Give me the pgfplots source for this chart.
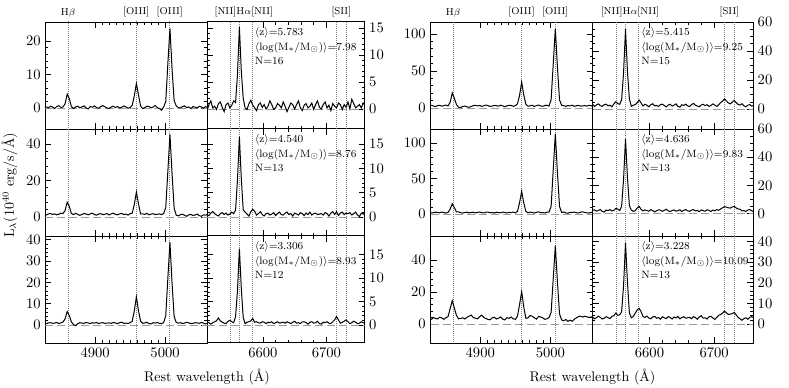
\documentclass[border=0pt]{standalone}
\usepackage{fontspec}
\usepackage{pgfplots}
\usepackage{pgfplotstable}
\pgfplotsset{compat=1.18}

\pgfplotstableread{
x a1 a2 a3 b1 b2 b3
4830 0.3 1.0 0.6 3.7 1.4 2.7
4833 0.0 1.7 1.0 2.7 1.8 4.0
4836 0.5 1.9 1.1 1.8 2.5 3.5
4839 0.3 1.4 0.8 3.1 2.1 3.1
4842 -0.2 1.7 0.9 3.6 1.6 4.2
4845 0.4 1.2 1.2 2.4 2.7 3.8
4848 0.7 1.5 0.7 3.0 2.0 2.9
4851 0.1 2.1 1.0 3.9 1.2 3.9
4854 0.3 1.9 1.4 2.7 2.3 4.6
4857 1.2 3.5 2.9 7.6 6.8 9.5
4860 4.1 8.1 6.3 20.3 14.4 14.5
4863 2.8 5.9 4.5 13.0 8.7 9.9
4866 0.4 2.0 1.5 4.7 2.9 5.4
4869 -0.2 1.3 0.2 1.0 3.0 3.2
4872 0.3 2.0 -0.3 0.6 1.8 3.5
4875 0.5 1.5 0.6 1.9 1.3 3.8
4878 0.0 0.9 1.1 2.6 2.1 3.1
4881 0.3 1.4 0.9 1.5 2.5 4.2
4884 0.6 1.9 0.8 0.9 1.6 4.8
4887 0.0 1.7 1.2 1.9 2.0 5.6
4890 -0.3 1.2 1.0 3.1 2.6 4.0
4893 0.4 1.7 0.7 3.6 1.4 3.6
4896 0.2 2.1 1.1 2.7 2.2 3.2
4899 0.6 1.3 0.9 3.3 2.8 4.5
4902 0.1 1.0 1.2 2.2 1.9 5.5
4905 -0.1 1.6 0.7 2.8 1.5 4.0
4908 0.4 1.8 1.0 3.9 2.4 3.4
4911 0.7 1.3 1.1 3.1 2.7 2.8
4914 0.3 1.5 0.8 2.1 1.8 2.6
4917 0.0 1.9 0.9 2.5 2.1 3.8
4920 -0.2 1.1 1.0 3.4 1.3 4.2
4923 0.3 1.7 0.8 3.0 2.5 3.1
4926 0.5 2.1 1.2 2.4 2.0 3.6
4929 0.1 1.4 1.0 3.7 1.6 4.4
4932 0.4 1.2 0.6 2.8 2.6 3.0
4935 0.0 1.7 1.1 1.8 2.2 2.5
4938 0.2 2.0 1.3 2.7 1.4 3.9
4941 0.6 1.3 0.8 3.6 2.4 3.5
4944 0.3 1.6 0.9 3.3 1.9 4.3
4947 -0.1 1.0 0.7 2.2 2.7 3.2
4950 0.1 1.8 1.1 3.1 1.5 2.9
4953 0.8 2.1 1.8 5.6 3.6 4.8
4956 3.6 6.8 6.6 16.9 16.0 12.1
4959 7.3 13.6 13.2 35.0 31.8 20.1
4962 3.9 7.2 6.7 17.4 15.5 10.5
4965 0.6 1.7 1.8 5.0 3.7 3.5
4968 -0.2 1.7 0.8 2.4 1.6 3.8
4971 0.1 1.4 1.0 2.8 2.6 5.3
4974 0.5 2.0 1.3 3.6 2.1 4.8
4977 0.4 1.2 0.7 2.1 1.3 3.9
4980 0.0 1.6 0.5 3.1 2.4 3.0
4983 0.3 1.8 1.1 3.9 3.0 4.6
4986 0.7 1.3 0.9 2.7 1.8 4.4
4989 0.1 1.5 1.2 2.2 2.0 3.8
4992 -0.2 1.7 0.8 3.3 1.4 2.9
4995 -0.7 1.3 0.7 3.7 2.5 3.2
4998 0.3 1.9 1.1 2.5 2.7 4.0
5001 1.9 5.1 4.4 11.3 10.8 7.2
5004 13.2 24.9 21.9 59.1 62.2 28.1
5007 23.8 45.2 38.8 107.0 113.2 49.0
5010 11.7 23.9 19.6 54.8 58.1 26.3
5013 2.2 4.8 4.0 10.7 10.5 6.2
5016 0.6 1.0 1.2 3.6 2.1 2.5
5019 0.1 0.6 0.9 3.1 2.8 2.0
5022 0.0 1.3 1.1 2.1 1.5 2.8
5025 0.4 1.5 0.7 3.3 1.0 1.6
5028 0.6 0.9 0.9 2.7 2.4 2.4
5031 0.1 0.4 1.3 3.7 2.0 1.7
5034 0.3 1.2 1.0 2.2 2.7 2.9
5037 -0.2 1.4 0.7 3.0 1.8 3.8
5040 0.4 0.8 0.8 3.4 1.4 4.6
5043 0.2 1.1 1.1 2.5 2.5 4.9
5046 0.0 1.6 1.0 2.8 3.1 4.3
5049 0.5 0.7 0.8 3.1 2.1 4.8
5052 0.3 0.4 1.2 2.4 1.6 4.5
5055 -0.1 1.2 0.9 3.6 1.3 4.0
5058 0.4 1.0 0.5 3.0 2.2 4.4
5061 0.1 1.5 0.9 1.9 2.6 3.9
}\leftdata

\pgfplotstableread{
x c1 c2 c3 d1 d2 d3
6512 -0.3 0.5 0.7 3.3 2.2 3.4
6515 0.8 0.3 0.5 1.8 2.6 2.5
6518 1.5 0.8 0.2 2.8 1.6 3.0
6521 0.2 1.1 0.5 3.6 2.1 3.8
6524 0.5 0.7 0.7 2.4 2.8 3.2
6527 -0.1 0.4 0.9 1.9 1.5 2.4
6530 1.0 0.2 1.5 3.0 1.0 2.8
6533 1.3 0.7 0.9 3.4 2.4 3.5
6536 0.3 0.9 0.6 2.2 2.0 3.1
6539 -0.5 0.5 0.4 2.7 2.7 2.6
6542 0.8 0.8 0.3 1.6 1.8 3.7
6545 1.1 0.4 0.8 3.6 2.2 4.0
6548 0.2 0.6 1.0 5.0 3.6 5.3
6551 0.7 1.0 0.7 3.8 3.1 4.2
6554 1.5 0.7 0.5 3.3 2.1 4.4
6557 1.2 1.4 1.8 6.4 5.2 5.9
6560 6.4 7.7 7.3 25.2 24.3 18.7
6563 15.2 16.5 16.2 55.0 53.2 39.2
6566 7.0 7.9 7.8 25.8 25.6 20.2
6569 2.0 1.5 1.6 7.0 5.5 5.3
6572 0.2 1.0 0.3 1.9 2.4 3.0
6575 -0.1 0.6 0.6 2.7 1.5 3.6
6578 1.0 0.2 0.7 3.1 2.0 5.2
6581 1.6 1.1 0.9 4.4 3.8 6.8
6584 0.7 1.6 1.4 6.2 5.0 7.6
6587 0.2 1.2 0.6 4.3 3.0 6.0
6590 -0.3 0.4 0.7 2.1 1.8 3.6
6593 0.8 0.7 0.5 3.3 2.5 3.2
6596 1.1 1.1 0.4 2.7 2.1 3.8
6599 0.3 0.5 0.7 1.6 1.6 2.9
6602 0.8 0.2 0.6 3.0 2.7 2.5
6605 0.0 0.7 0.3 3.7 2.0 3.4
6608 0.5 0.8 0.6 2.2 1.2 3.7
6611 1.5 0.4 0.5 2.5 1.9 2.8
6614 0.8 0.6 0.7 1.8 2.6 3.1
6617 -0.1 0.9 0.3 3.1 2.4 2.3
6620 0.2 0.3 0.5 3.4 1.5 3.5
6623 1.0 0.7 0.7 2.4 2.2 3.0
6626 0.7 1.0 0.4 1.5 3.0 2.6
6629 0.2 0.5 0.5 2.8 1.8 3.6
6632 1.3 0.4 0.6 3.3 1.3 3.2
6635 0.5 0.8 0.4 2.1 2.1 2.4
6638 -0.5 1.0 0.7 2.7 2.5 3.4
6641 0.3 0.5 0.5 3.6 1.6 2.9
6644 1.1 0.7 0.3 1.9 2.0 3.7
6647 0.8 0.2 0.6 1.3 2.6 2.5
6650 0.0 0.8 0.8 3.0 1.4 3.1
6653 0.8 0.6 0.4 2.5 2.2 3.5
6656 1.5 0.4 0.5 3.4 2.8 2.8
6659 0.2 0.9 0.3 2.2 1.9 3.0
6662 -0.3 0.7 0.7 1.8 1.5 3.2
6665 0.7 0.3 0.7 3.1 2.4 2.6
6668 1.0 0.8 0.5 3.9 2.7 3.6
6671 0.2 0.5 0.2 2.7 1.8 3.1
6674 0.5 1.0 0.6 2.1 2.1 2.3
6677 1.1 0.4 0.7 1.6 1.3 3.4
6680 -0.1 0.7 0.4 2.8 2.5 4.0
6683 0.8 0.8 0.5 3.3 2.0 2.8
6686 1.5 0.5 0.8 2.4 1.6 3.0
6689 0.3 0.6 0.3 3.0 2.6 2.4
6692 0.0 0.7 0.2 1.9 2.2 3.5
6695 0.8 0.4 0.6 2.5 1.4 3.7
6698 1.3 0.9 0.5 3.6 2.4 2.9
6701 0.2 0.7 0.7 2.8 1.9 2.2
6704 0.7 0.2 0.4 1.8 2.7 3.2
6707 -0.3 0.8 0.3 3.0 2.3 4.2
6710 1.0 1.1 0.7 4.5 3.2 4.6
6713 0.5 0.5 1.1 5.5 4.0 5.3
6716 0.2 1.1 1.8 7.0 4.8 6.2
6719 1.1 0.3 1.1 5.6 4.5 5.4
6722 0.8 0.8 0.4 4.2 4.0 4.6
6725 -0.1 1.0 0.6 3.6 3.8 4.8
6728 0.8 0.5 0.8 4.8 4.6 5.0
6731 0.3 0.8 1.1 6.0 5.0 5.6
6734 1.3 0.7 0.7 4.5 3.9 4.4
6737 0.0 0.9 0.3 3.2 3.2 3.2
6740 1.8 0.4 0.5 2.8 3.0 2.5
6743 1.0 0.7 0.8 3.7 1.8 1.8
6746 0.2 1.0 0.6 2.2 2.0 2.6
6749 0.5 0.4 0.3 1.6 1.4 3.0
6752 0.8 0.1 0.4 2.7 2.5 2.3
6755 0.2 0.8 0.7 3.1 2.7 3.2
6758 1.1 0.6 0.5 2.1 1.9 3.6
6761 0.7 1.0 0.4 2.5 1.2 2.9
}\rightdata

\pgfplotsset{
  panel/.style={
    scale only axis, anchor=south west, height=80.25pt,
    clip mode=individual,
    tick align=inside, xtick pos=both, ytick pos=both,
    major tick length=4.5pt, minor tick length=2.2pt,
    every tick/.style={black, line width=0.5pt},
    axis line style={line width=0.7pt},
    ticklabel style={font=\fontsize{10.5}{12}\selectfont},
    /pgf/number format/1000 sep={},
    minor y tick num=4,
  },
  lpanel/.style={panel, xmin=4829, xmax=5060, xtick={4900,5000},
    minor x tick num=9, yticklabel pos=left},
  rpanel/.style={panel, xmin=6512, xmax=6760, xtick={6600,6700},
    minor x tick num=4, yticklabel pos=right},
  spec/.style={black, line width=0.75pt, mark=none},
  vline/.style={gray, densely dotted, line width=0.5pt, forget plot},
  zline/.style={gray!80, dash pattern=on 6pt off 3pt, line width=0.5pt, forget plot},
}
\tikzset{
  toplab/.style={anchor=south, inner sep=1pt, yshift=2.5pt, font=\fontsize{7.5}{9}\selectfont},
  annotsty/.style={anchor=north west, align=left, inner sep=0pt, yshift=-4pt,
    font=\fontsize{8}{11}\selectfont},
}

\newcommand{\leftdeco}{%
  \addplot[vline] coordinates {(4861.3,-500) (4861.3,500)};
  \addplot[vline] coordinates {(4958.9,-500) (4958.9,500)};
  \addplot[vline] coordinates {(5006.8,-500) (5006.8,500)};
  \addplot[zline] coordinates {(4829,0) (5060,0)};
}
\newcommand{\rightdeco}{%
  \addplot[vline] coordinates {(6548.1,-500) (6548.1,500)};
  \addplot[vline] coordinates {(6562.8,-500) (6562.8,500)};
  \addplot[vline] coordinates {(6583.4,-500) (6583.4,500)};
  \addplot[vline] coordinates {(6716.4,-500) (6716.4,500)};
  \addplot[vline] coordinates {(6730.8,-500) (6730.8,500)};
  \addplot[zline] coordinates {(6512,0) (6760,0)};
}
\newcommand{\lefttop}{%
  \node[toplab] at ({axis cs:4861.3,0}|-{rel axis cs:0,1}) {H$\beta$};
  \node[toplab] at ({axis cs:4958.9,0}|-{rel axis cs:0,1}) {[OIII]};
  \node[toplab] at ({axis cs:5006.8,0}|-{rel axis cs:0,1}) {[OIII]};
}
\newcommand{\righttop}{%
  \node[toplab] at ({axis cs:6570,0}|-{rel axis cs:0,1}) {[NII]H$\alpha$[NII]};
  \node[toplab] at ({axis cs:6723.6,0}|-{rel axis cs:0,1}) {[SII]};
}
\newcommand{\annot}[3]{%
  \node[annotsty] at ({axis cs:6587,0}|-{rel axis cs:0,1})
    {$\langle$z$\rangle$=#1\\$\langle$log(M$_*$/M$_\odot$)$\rangle$=#2\\N=#3};
}

\begin{document}
\begin{tikzpicture}
\useasboundingbox (0,0) rectangle (591.75pt,291pt);

% ---------------- group A ----------------
\begin{axis}[lpanel, at={(34.125pt,194.25pt)}, width=121.125pt,
  ymin=-6.3, ymax=25.7, ytick={0,10,20}, xticklabels={}]
  \leftdeco
  \addplot[spec] table[x=x,y=a1]{\leftdata};
  \lefttop
\end{axis}
\begin{axis}[rpanel, at={(155.25pt,194.25pt)}, width=118.125pt,
  ymin=-3.7, ymax=16.1, ytick={0,5,10,15}, xticklabels={}]
  \rightdeco
  \addplot[spec] table[x=x,y=c1]{\rightdata};
  \righttop
  \annot{5.783}{7.98}{16}
\end{axis}

\begin{axis}[lpanel, at={(34.125pt,114pt)}, width=121.125pt,
  ymin=-10.4, ymax=48.2, ytick={0,20,40}, xticklabels={}]
  \leftdeco
  \addplot[spec] table[x=x,y=a2]{\leftdata};
\end{axis}
\begin{axis}[rpanel, at={(155.25pt,114pt)}, width=118.125pt,
  ymin=-3.9, ymax=18.1, ytick={0,5,10,15}, xticklabels={}]
  \rightdeco
  \addplot[spec] table[x=x,y=c2]{\rightdata};
  \annot{4.540}{8.76}{13}
\end{axis}

\begin{axis}[lpanel, at={(34.125pt,33.75pt)}, width=121.125pt,
  ymin=-8.4, ymax=41.7, ytick={0,10,20,30,40}]
  \leftdeco
  \addplot[spec] table[x=x,y=a3]{\leftdata};
\end{axis}
\begin{axis}[rpanel, at={(155.25pt,33.75pt)}, width=118.125pt,
  ymin=-3.8, ymax=18.9, ytick={0,5,10,15}]
  \rightdeco
  \addplot[spec] table[x=x,y=c3]{\rightdata};
  \annot{3.306}{8.93}{12}
\end{axis}

% ---------------- group B ----------------
\begin{axis}[lpanel, at={(322.875pt,194.25pt)}, width=121.5pt,
  ymin=-28.4, ymax=116, ytick={0,50,100}, xticklabels={}]
  \leftdeco
  \addplot[spec] table[x=x,y=b1]{\leftdata};
  \lefttop
\end{axis}
\begin{axis}[rpanel, at={(444.375pt,194.25pt)}, width=120.375pt,
  ymin=-13.7, ymax=60, ytick={0,20,40,60}, minor y tick num=3, xticklabels={}]
  \rightdeco
  \addplot[spec] table[x=x,y=d1]{\rightdata};
  \righttop
  \annot{5.415}{9.25}{15}
\end{axis}

\begin{axis}[lpanel, at={(322.875pt,114pt)}, width=121.5pt,
  ymin=-31, ymax=119.7, ytick={0,50,100}, xticklabels={}]
  \leftdeco
  \addplot[spec] table[x=x,y=b2]{\leftdata};
\end{axis}
\begin{axis}[rpanel, at={(444.375pt,114pt)}, width=120.375pt,
  ymin=-16, ymax=60, ytick={0,20,40,60}, minor y tick num=3, xticklabels={}]
  \rightdeco
  \addplot[spec] table[x=x,y=d2]{\rightdata};
  \annot{4.636}{9.83}{13}
\end{axis}

\begin{axis}[lpanel, at={(322.875pt,33.75pt)}, width=121.5pt,
  ymin=-11.9, ymax=55, ytick={0,20,40}]
  \leftdeco
  \addplot[spec] table[x=x,y=b3]{\leftdata};
\end{axis}
\begin{axis}[rpanel, at={(444.375pt,33.75pt)}, width=120.375pt,
  ymin=-9.2, ymax=42.6, ytick={0,10,20,30,40}]
  \rightdeco
  \addplot[spec] table[x=x,y=d3]{\rightdata};
  \annot{3.228}{10.09}{13}
\end{axis}

% ---------------- labels ----------------
\node[rotate=90, font=\fontsize{10.5}{12}\selectfont] at (7pt,152pt)
  {L$_\lambda$(10$^{40}$ erg/s/Å)};
\node[font=\fontsize{10.5}{12}\selectfont] at (155.25pt,8.5pt) {Rest wavelength (Å)};
\node[font=\fontsize{10.5}{12}\selectfont] at (444.375pt,8.5pt) {Rest wavelength (Å)};
\end{tikzpicture}
\end{document}
